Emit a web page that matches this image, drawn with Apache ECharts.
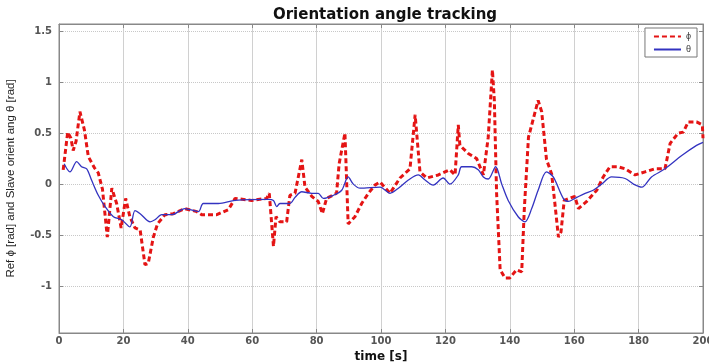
<!DOCTYPE html>
<html><head><meta charset="utf-8">
<script src="https://cdn.jsdelivr.net/npm/echarts@6/dist/echarts.min.js"></script>
<style>html,body{margin:0;padding:0;background:#fff}#c{width:709px;height:362px}</style>
</head><body><div id="c"></div>
<script>
const xTicks = [0, 20, 40, 60, 80, 100, 120, 140, 160, 180, 200];
const yTicks = [-1, -0.5, 0, 0.5, 1, 1.5];
const phiT = [1.3, 2.7, 3.7, 4.4, 5.3, 6.5, 7.9, 9.1, 11, 12.2, 13.5, 15, 16.4, 17.9, 19.3, 20.7, 22, 23.6, 25.2, 26.7, 27.7, 29.3, 30.6, 32.9, 35.5, 39.1, 42.8, 44.3, 49, 52.6, 54.7, 59.8, 64.5, 65.3, 66.6, 67.4, 68.6, 70.7, 71.7, 73.3, 75.4, 76.4, 78.5, 80.5, 81.8, 83.1, 86.2, 87, 88.8, 89.8, 91.9, 94, 96.1, 98.1, 99.7, 102.8, 105.9, 109, 110.6, 112.1, 114.2, 117.8, 121.4, 123, 124, 124.5, 127.1, 129.7, 131.8, 133.3, 134.6, 135.2, 135.9, 137, 138.5, 140, 142.1, 143.7, 144.5, 145.8, 147.3, 148.8, 149.9, 151.4, 153, 154, 155.1, 155.9, 156.9, 160.2, 161.3, 163.9, 167, 169, 171.1, 173.7, 175.8, 178.9, 182, 185.1, 188.2, 189.8, 192.3, 193.9, 195.4, 198, 199.8, 200];
const phiV = [0.14, 0.51, 0.45, 0.33, 0.42, 0.71, 0.53, 0.27, 0.16, 0.11, -0.05, -0.52, -0.04, -0.19, -0.43, -0.14, -0.32, -0.43, -0.45, -0.79, -0.78, -0.52, -0.39, -0.30, -0.29, -0.24, -0.27, -0.30, -0.30, -0.25, -0.14, -0.16, -0.14, -0.09, -0.61, -0.32, -0.37, -0.37, -0.11, -0.09, 0.24, -0.03, -0.12, -0.17, -0.29, -0.14, -0.09, 0.2, 0.5, -0.39, -0.32, -0.19, -0.09, -0.01, 0.02, -0.09, 0.06, 0.15, 0.68, 0.12, 0.06, 0.09, 0.14, 0.09, 0.58, 0.38, 0.30, 0.25, 0.09, 0.46, 1.12, 0.82, -0.09, -0.84, -0.92, -0.92, -0.84, -0.86, -0.25, 0.46, 0.64, 0.82, 0.71, 0.24, 0.10, -0.19, -0.52, -0.47, -0.16, -0.12, -0.24, -0.17, -0.06, 0.07, 0.17, 0.17, 0.15, 0.09, 0.12, 0.15, 0.15, 0.40, 0.50, 0.51, 0.61, 0.61, 0.58, 0.45];
const thT = [1.6, 3.4, 5.5, 7, 8.6, 10.1, 12.2, 14.3, 16.9, 19.5, 22, 23.6, 25.2, 28.3, 29.8, 31.9, 35, 39.1, 43.3, 44.8, 49.5, 54.7, 65, 66.6, 67.6, 68.6, 71.7, 73.3, 75.4, 78.5, 80.5, 82.1, 85.2, 87.8, 89.8, 91.4, 93.5, 99.7, 102.8, 105.4, 108.5, 111.6, 113.7, 116.2, 119.3, 121.4, 124, 125, 128.2, 130.2, 131.8, 133.3, 135.6, 137.5, 139.5, 142.6, 144.7, 146.8, 148.8, 151.4, 153.5, 156.6, 158.2, 160.2, 163.4, 165.9, 168.5, 171.6, 175.8, 178.4, 181, 184, 188.2, 193.4, 198, 200];
const thV = [0.2, 0.12, 0.22, 0.17, 0.15, 0.04, -0.11, -0.22, -0.32, -0.35, -0.42, -0.26, -0.29, -0.37, -0.35, -0.30, -0.30, -0.24, -0.27, -0.19, -0.19, -0.16, -0.15, -0.16, -0.22, -0.19, -0.19, -0.13, -0.075, -0.09, -0.09, -0.14, -0.11, -0.06, 0.07, 0, -0.04, -0.03, -0.09, -0.04, 0.04, 0.09, 0.04, -0.01, 0.06, 0, 0.09, 0.17, 0.17, 0.14, 0.07, 0.05, 0.17, 0, -0.16, -0.32, -0.37, -0.24, -0.06, 0.12, 0.07, -0.14, -0.17, -0.14, -0.09, -0.06, 0, 0.07, 0.055, 0, -0.03, 0.07, 0.15, 0.28, 0.38, 0.41];
const yMin = -1.46, yMax = 1.57;

const chart = echarts.init(document.getElementById('c'), null, {renderer: 'canvas'});
const font = '"Liberation Sans", Arial, sans-serif';
const wide = '"DejaVu Sans", sans-serif';
const grid = {left: 59, right: 6, top: 24, bottom: 29, show: true, borderColor: '#888', borderWidth: 1,
  containLabel: false, outerBoundsMode: 'none'};
const splitStyle = {lineStyle: {color: '#c8c8c8', type: 'dotted', width: 1}};
chart.setOption({
  animation: false,
  backgroundColor: '#fff',
  title: {text: 'Orientation angle tracking', left: 380, top: 3, textAlign: 'center',
    textStyle: {fontFamily: wide, fontSize: 15, fontWeight: 'bold', color: '#111'}},
  legend: {right: 12, top: 28, orient: 'vertical', itemWidth: 27, itemHeight: 8, itemGap: 4,
    padding: [4, 6, 3, 8], borderColor: '#777', borderWidth: 1, backgroundColor: '#fff',
    textStyle: {fontFamily: font, fontSize: 9, color: '#333'},
    itemStyle: {opacity: 0, borderWidth: 0},
    data: ['ϕ', 'θ']},
  grid: grid,
  xAxis: [{type: 'value', min: 0, max: 200, interval: 20, position: 'bottom',
    name: 'time [s]', nameLocation: 'middle', nameGap: 14,
    nameTextStyle: {fontFamily: wide, fontSize: 12, fontWeight: 'bold', color: '#111'},
    axisLine: {onZero: false, lineStyle: {color: '#888'}},
    axisTick: {inside: true, length: 4, lineStyle: {color: '#888'}},
    axisLabel: {fontFamily: wide, fontSize: 10, fontWeight: 'bold', color: '#555', margin: 3,
      customValues: xTicks},
    splitLine: {show: true, lineStyle: {color: '#d0d0d0', type: 'solid', width: 1}}},
   {type: 'value', min: 0, max: 200, interval: 20, position: 'top',
    axisLine: {onZero: false, lineStyle: {color: '#888'}}, axisTick: {inside: true, length: 4, lineStyle: {color: '#888'}},
    axisLabel: {show: false}, splitLine: {show: false}}],
  yAxis: [{type: 'value', min: yMin, max: yMax, position: 'left',
    name: 'Ref ϕ [rad] and Slave orient ang θ [rad]', nameLocation: 'middle', nameGap: 42,
    nameTextStyle: {fontFamily: '"Liberation Sans Narrow", "Liberation Sans", Arial, sans-serif', fontSize: 11.5, color: '#222'},
    axisLine: {onZero: false, lineStyle: {color: '#888'}},
    axisTick: {inside: true, length: 4, customValues: yTicks, lineStyle: {color: '#888'}},
    axisLabel: {fontFamily: wide, fontSize: 10, fontWeight: 'bold', color: '#555', margin: 7,
      customValues: yTicks, formatter: v => String(v)},
    splitLine: Object.assign({show: true}, splitStyle)},
   {type: 'value', min: yMin, max: yMax, position: 'right',
    axisLine: {onZero: false, lineStyle: {color: '#888'}},
    axisTick: {inside: true, length: 4, customValues: yTicks, lineStyle: {color: '#888'}},
    axisLabel: {show: false}, splitLine: {show: false}}],
  series: [
    {name: 'ϕ', type: 'line', xAxisIndex: 0, yAxisIndex: 0, symbol: 'none', z: 3,
     data: phiT.map((t, i) => [t, phiV[i]]),
     lineStyle: {color: '#e41414', width: 3, type: [5, 3]}, itemStyle: {color: '#e41414'}},
    {name: 'θ', type: 'line', xAxisIndex: 0, yAxisIndex: 0, symbol: 'none', smooth: 0.3, z: 4,
     data: thT.map((t, i) => [t, thV[i]]),
     lineStyle: {color: '#3333c0', width: 1.3}, itemStyle: {color: '#3333c0'}}
  ]
});
</script></body></html>
